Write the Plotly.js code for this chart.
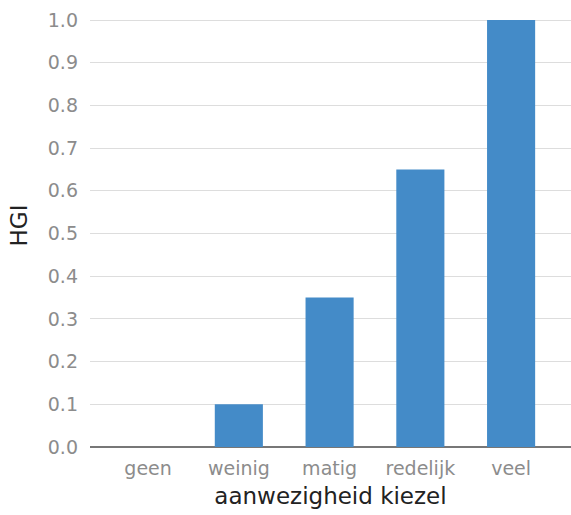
<!DOCTYPE html>
<html><head><meta charset="utf-8">
<script src="https://cdn.plot.ly/plotly-3.0.1.min.js"></script>
<style>html,body{margin:0;padding:0;background:#fff}#c{width:571px;height:515px}</style>
</head><body><div id="c"></div>
<script>
var categories = ["geen", "weinig", "matig", "redelijk", "veel"];
var hgi = [0, 0.1, 0.35, 0.65, 1.0];
var yTicks = [0, 0.1, 0.2, 0.3, 0.4, 0.5, 0.6, 0.7, 0.8, 0.9, 1.0];
var yTickText = ["0.0", "0.1", "0.2", "0.3", "0.4", "0.5", "0.6", "0.7", "0.8", "0.9", "1.0"];

Plotly.newPlot("c", [{
  type: "bar", x: categories, y: hgi,
  marker: {color: "#448bc8", line: {width: 0}},
  width: 0.53, hoverinfo: "none"
}], {
  width: 571, height: 515,
  margin: {l: 90, r: 0, t: 4, b: 68},
  paper_bgcolor: "#fff", plot_bgcolor: "#fff",
  font: {family: "DejaVu Sans", size: 19, color: "#888"},
  showlegend: false,
  xaxis: {
    type: "category", range: [-0.64, 4.66],
    showgrid: false, zeroline: false, automargin: false,
    showline: false, ticks: "", ticklabelstandoff: 8,
    tickfont: {size: 19, color: "#8c8c8c"},
    title: {text: "aanwezigheid kiezel", font: {size: 23, color: "#222"}, standoff: 9}
  },
  yaxis: {
    range: [0, 1.0375], tickvals: yTicks, ticktext: yTickText, automargin: false,
    showgrid: true, gridcolor: "#ddd", gridwidth: 1,
    zeroline: true, zerolinecolor: "#777", zerolinewidth: 2,
    showline: false, ticks: "", ticklen: 0, ticklabelstandoff: 11,
    tickfont: {size: 19, color: "#8c8c8c"},
    title: {text: "HGI", font: {size: 23, color: "#222"}, standoff: 13}
  }
}, {staticPlot: true, displayModeBar: false});
</script></body></html>
